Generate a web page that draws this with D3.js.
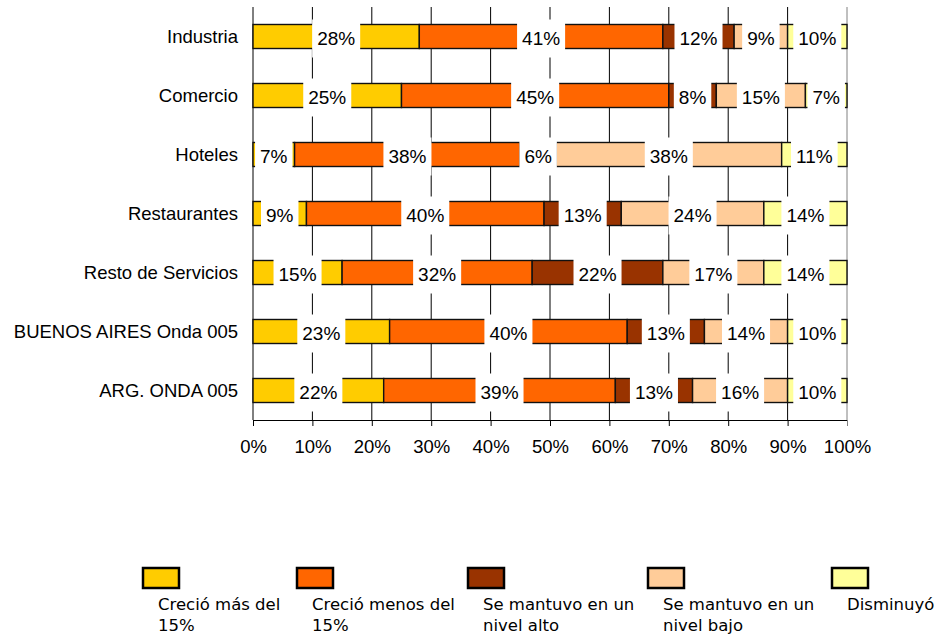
<!DOCTYPE html>
<html>
<head>
<meta charset="utf-8">
<script src="https://cdn.jsdelivr.net/npm/d3@7"></script>
<style>
  body { margin: 0; background: #fff; }
  svg { display: block; }
</style>
</head>
<body>
<svg id="chart" width="934" height="637"></svg>
<script>
let categories = ["Industria", "Comercio", "Hoteles", "Restaurantes", "Resto de Servicios", "BUENOS AIRES Onda 005", "ARG. ONDA 005"];
let crecioMas = [28, 25, 7, 9, 15, 23, 22];
let crecioMenos = [41, 45, 38, 40, 32, 40, 39];
let nivelAlto = [12, 8, 6, 13, 22, 13, 13];
let nivelBajo = [9, 15, 38, 24, 17, 14, 16];
let disminuyo = [10, 7, 11, 14, 14, 10, 10];
let ticks = [0, 10, 20, 30, 40, 50, 60, 70, 80, 90, 100];

let keys = ["mas", "menos", "alto", "bajo", "dism"];
let legendLabels = [
  ["Creció más del", "15%"],
  ["Creció menos del", "15%"],
  ["Se mantuvo en un", "nivel alto"],
  ["Se mantuvo en un", "nivel bajo"],
  ["Disminuyó"]
];
let Colors = ["#FFCC00", "#FF6600", "#993300", "#FFCC99", "#FFFF99"];

// table for d3.stack
let rows = categories.map((c, i) => ({
  cat: c, mas: crecioMas[i], menos: crecioMenos[i], alto: nivelAlto[i], bajo: nivelBajo[i], dism: disminuyo[i]
}));

let svg = d3.select("#chart");

let x = d3.scaleLinear().domain([0, 100]).range([253, 847]);
let y = d3.scaleBand().domain(categories).range([7, 420]).paddingInner(0.593).paddingOuter(0.2965);
let color = d3.scaleOrdinal().domain(keys).range(Colors);

let series = d3.stack().keys(keys)(rows);

// gridlines
svg.append("g")
  .selectAll("line")
  .data(ticks.filter(t => t > 0))
  .enter()
  .append("line")
  .attr("x1", d => x(d)).attr("x2", d => x(d))
  .attr("y1", 7).attr("y2", 420)
  .attr("stroke", d => d === 100 ? "#808080" : "#000")
  .attr("stroke-width", 1);

// x axis
let xAxis = d3.axisBottom(x).tickValues(ticks).tickSize(6).tickSizeOuter(0).tickFormat(d => d + "%");
let ax = svg.append("g")
  .attr("transform", "translate(0,420)")
  .call(xAxis);
ax.select(".domain").attr("stroke", "#000");
ax.selectAll(".tick line").attr("stroke", d => d === 100 ? "#808080" : "#000");
ax.selectAll(".tick text")
  .attr("font-family", "Liberation Sans, Arial, sans-serif")
  .attr("font-size", "18.5px")
  .attr("fill", "#000")
  .attr("y", 33)
  .attr("dy", 0);

// left axis line
svg.append("line")
  .attr("x1", x(0)).attr("x2", x(0))
  .attr("y1", 7).attr("y2", 420)
  .attr("stroke", "#000");

// category labels
svg.append("g")
  .selectAll("text")
  .data(categories)
  .enter()
  .append("text")
  .attr("x", 238)
  .attr("y", d => y(d) + y.bandwidth() / 2)
  .attr("dy", "0.35em")
  .attr("text-anchor", "end")
  .attr("font-family", "Liberation Sans, Arial, sans-serif")
  .attr("font-size", "18.5px")
  .attr("fill", "#000")
  .text(d => d);

// bars
svg.append("g")
  .selectAll("g")
  .data(series)
  .enter()
  .append("g")
  .attr("fill", d => color(d.key))
  .selectAll("rect")
  .data(d => d)
  .enter()
  .append("rect")
  .attr("x", d => x(d[0]))
  .attr("y", d => y(d.data.cat))
  .attr("width", d => x(d[1]) - x(d[0]))
  .attr("height", y.bandwidth())
  .attr("stroke", "#111")
  .attr("stroke-width", 1.4);

// value labels with white boxes
let labels = svg.append("g")
  .selectAll("g")
  .data(series.flatMap(s => s.map(d => ({key: s.key, v: d[1] - d[0], d0: d[0], d1: d[1], cat: d.data.cat}))))
  .enter()
  .append("g")
  .attr("transform", d => "translate(" + x((d.d0 + d.d1) / 2) + "," + (y(d.cat) + y.bandwidth() / 2 + 2) + ")");

labels.append("rect").attr("fill", "#fff");
labels.append("text")
  .attr("text-anchor", "middle")
  .attr("dy", "0.35em")
  .attr("font-family", "Liberation Sans, Arial, sans-serif")
  .attr("font-size", "19px")
  .attr("fill", "#000")
  .text(d => d.v + "%");

labels.each(function () {
  let g = d3.select(this);
  let w = g.select("text").node().getComputedTextLength() + 10;
  g.select("rect")
    .attr("x", -w / 2).attr("y", -19)
    .attr("width", w).attr("height", 38);
});

// legend
let legendX = [143, 297, 468, 648, 832];
let legend = svg.append("g")
  .selectAll("g")
  .data(keys)
  .enter()
  .append("g")
  .attr("transform", (d, i) => "translate(" + legendX[i] + ",0)");

legend.append("rect")
  .attr("x", 0).attr("y", 568)
  .attr("width", 36).attr("height", 20)
  .attr("fill", d => color(d))
  .attr("stroke", "#000")
  .attr("stroke-width", 2.5);

legend.append("text")
  .attr("font-family", "DejaVu Sans, Verdana, sans-serif")
  .attr("font-size", "16.5px")
  .attr("fill", "#000")
  .selectAll("tspan")
  .data((d, i) => legendLabels[i])
  .enter()
  .append("tspan")
  .attr("x", 15)
  .attr("y", (d, j) => 610 + j * 21)
  .text(d => d);
</script>
</body>
</html>
